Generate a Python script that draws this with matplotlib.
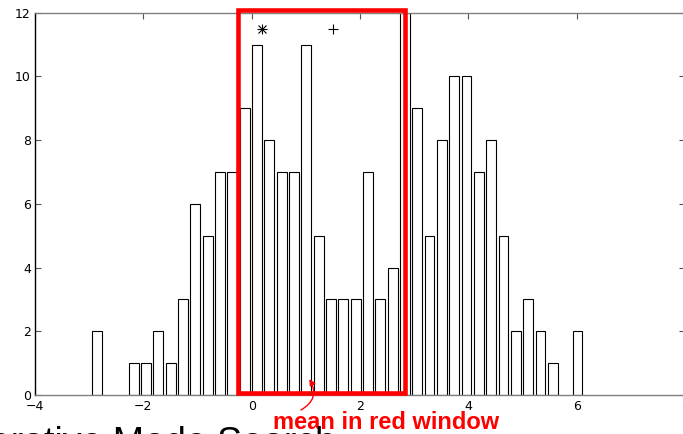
import numpy as np
import matplotlib
matplotlib.use("Agg")
import matplotlib.pyplot as plt
from matplotlib.patches import Rectangle

# Histogram of 200 samples in 40 equal bins
hist_lo, hist_hi = -2.974, 6.129
counts = [2, 0, 0, 1, 1, 2, 1, 3, 6, 5,
          7, 7, 9, 11, 8, 7, 7, 11, 5, 3,
          3, 3, 7, 3, 4, 12, 9, 5, 8, 10,
          10, 7, 8, 5, 2, 3, 2, 1, 0, 2]

# Search window and the two mode estimates
window_lo, window_hi = -0.253, 2.836
start_point = 0.19      # '*'
window_mean = 1.51      # '+'
marker_y = 11.5

x_ticks = [-4, -2, 0, 2, 4, 6, 8]
y_ticks = [0, 2, 4, 6, 8, 10, 12]

fig = plt.figure(figsize=(6.83, 4.34), dpi=100)
ax = fig.add_axes([35 / 683, 39 / 434, 650 / 683, 382.3 / 434])

edges = np.linspace(hist_lo, hist_hi, len(counts) + 1)
centers = 0.5 * (edges[:-1] + edges[1:])
binw = edges[1] - edges[0]
counts = np.array(counts)
nz = counts > 0
ax.bar(centers[nz], counts[nz], width=0.8 * binw, facecolor="white",
       edgecolor="black", linewidth=0.8, zorder=2)

ax.set_xlim(-4, 8)
ax.set_ylim(0, 12)
ax.set_xticks(x_ticks)
ax.set_yticks(y_ticks)
ax.set_xticklabels([f"\u2212{-t}" if t < 0 else str(t) for t in x_ticks])
ax.tick_params(direction="in", top=True, right=True, length=4, width=0.8,
               labelsize=9, color="#555555")
ax.tick_params(axis="x", pad=3.5)
ax.tick_params(axis="y", pad=3)

for side in ("top", "bottom"):
    ax.spines[side].set_color("#808080")
    ax.spines[side].set_linewidth(1.0)
ax.spines["left"].set_color("black")
ax.spines["left"].set_linewidth(1.0)
ax.spines["right"].set_color("#808080")

# Red search window
ax.add_patch(Rectangle((window_lo, 0.05), window_hi - window_lo, 12.05,
                       fill=False, edgecolor="red", linewidth=3.3,
                       clip_on=False, zorder=5))

# Mode markers: MATLAB-style asterisk (plus + cross) and plus
ax.plot([start_point], [marker_y], marker="+", ms=7, mew=0.8, color="black",
        linestyle="none", zorder=6)
ax.plot([start_point], [marker_y], marker="x", ms=5.5, mew=0.8, color="black",
        linestyle="none", zorder=6)
ax.plot([window_mean], [marker_y], marker="+", ms=7, mew=0.8, color="black",
        linestyle="none", zorder=6)

# Annotation arrow pointing to the window mean on the axis
ax.annotate("", xy=(1.064, 0.5), xytext=(0.91, -0.47),
            xycoords="data", textcoords="data", annotation_clip=False,
            arrowprops=dict(arrowstyle="-|>", color="red", lw=1.0,
                            mutation_scale=9,
                            connectionstyle="arc3,rad=0.5",
                            shrinkA=0, shrinkB=0))

fig.text(272.7 / 683, (434 - 429) / 434, "mean in red window", color="red",
         fontsize=17, fontweight="bold", family="Liberation Sans",
         ha="left", va="baseline")

fig.text(-31 / 683, (434 - 454.5) / 434, "Iterative Mode Search",
         fontsize=27, family="Liberation Sans", ha="left", va="baseline")

fig.savefig("out.png", dpi=100)
